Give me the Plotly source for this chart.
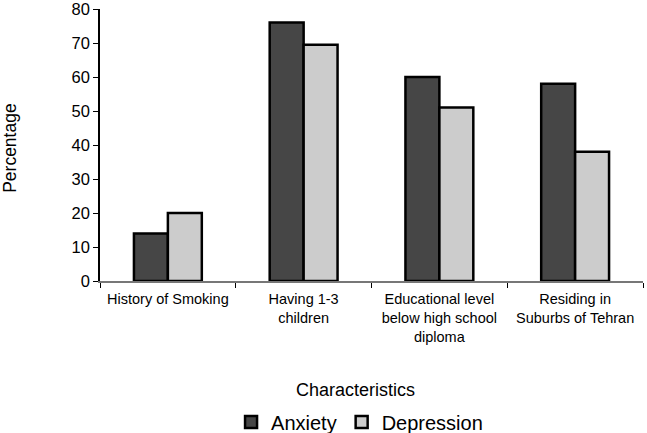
import plotly.graph_objects as go

categories = ["History of Smoking", "Having 1-3<br>children",
              "Educational level<br>below high school<br>diploma",
              "Residing in<br>Suburbs of Tehran"]
anxiety = [14, 76, 60, 58]
depression = [20, 69.5, 51, 38]
y_ticks = [0, 10, 20, 30, 40, 50, 60, 70, 80]

fig = go.Figure()
fig.add_trace(go.Bar(x=categories, y=anxiety, name="Anxiety",
                     marker=dict(color="#464646", line=dict(color="black", width=2.5))))
fig.add_trace(go.Bar(x=categories, y=depression, name="Depression",
                     marker=dict(color="#cccccc", line=dict(color="black", width=2.5))))

font_family = "Liberation Sans, Arial, sans-serif"
fig.update_layout(
    width=647, height=433,
    margin=dict(l=100, r=4, t=9, b=152, autoexpand=False),
    plot_bgcolor="white", paper_bgcolor="white",
    barmode="group", bargap=0.5, bargroupgap=0,
    font=dict(family=font_family, color="black"),
    showlegend=True,
    legend=dict(orientation="h", x=0.478, xanchor="center", y=-0.518, yanchor="middle",
                font=dict(size=20), itemwidth=30, traceorder="normal"),
    xaxis=dict(showline=True, linecolor="#777777", linewidth=2, automargin=False,
               tickson="boundaries", ticks="outside", ticklen=5, tickcolor="black",
               tickfont=dict(size=14.5), showgrid=False, ticklabeloverflow="allow",
               ticklabelstandoff=4),
    yaxis=dict(range=[0, 80], tickvals=y_ticks, showline=True, linecolor="black",
               linewidth=1.5, ticks="outside", ticklen=5, tickcolor="black", automargin=False,
               tickfont=dict(size=16.5), showgrid=False, zeroline=False,
               ticklabeloverflow="allow"),
    annotations=[
        dict(text="Characteristics", xref="paper", yref="paper", x=0.47, y=-0.401,
             xanchor="center", yanchor="middle", showarrow=False, font=dict(size=18)),
        dict(text="Percentage", xref="paper", yref="paper", x=-0.166, y=0.489,
             xanchor="center", yanchor="middle", textangle=-90, showarrow=False,
             font=dict(size=17.5)),
    ],
)
fig.write_html("out.html", config={"displayModeBar": False},
               post_script="document.body.style.margin='0';")
